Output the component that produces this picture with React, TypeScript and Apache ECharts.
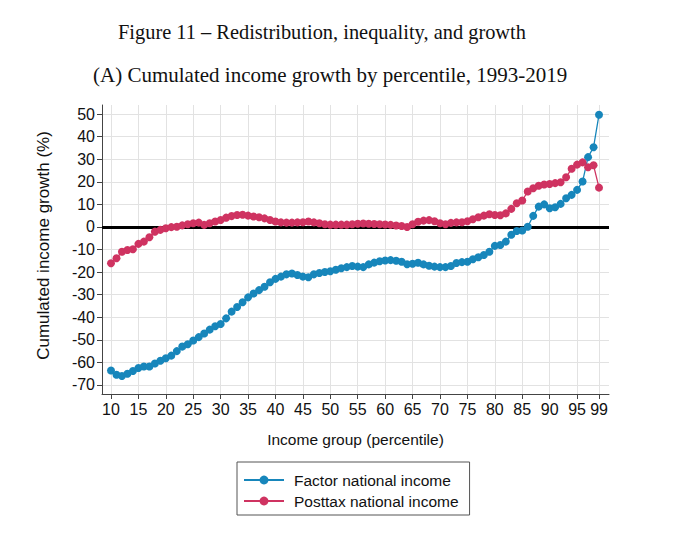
import React, { useEffect, useRef } from "react";
import * as echarts from "echarts";

const percentiles: number[] = [];
for (let p = 10; p <= 99; p++) percentiles.push(p);

// cumulated growth 1993-2019, %
const factorIncome = [
  -63.6, -65.5, -66, -65, -63.8, -62.5, -61.8, -61.8, -60.5, -59.3,
  -58.2, -57, -55, -53, -52, -50.3, -48.8, -47.2, -45.5, -44,
  -43, -40.5, -37.5, -35.5, -33.4, -31.2, -29.5, -28, -26.5, -24.5,
  -23, -22, -21, -20.6, -21.3, -22, -22.3, -21, -20.4, -20,
  -19.6, -19, -18.3, -17.8, -17.3, -17.6, -17.8, -16.6, -15.8, -15.2,
  -14.9, -14.7, -15, -15.4, -16.5, -16.3, -15.9, -16.6, -17.2, -17.6,
  -17.8, -17.8, -17.3, -16, -15.6, -15.4, -14.3, -13.4, -12.4, -11,
  -8.4, -8, -6.5, -3.5, -1.8, -1.6, 0.1, 4.9, 9, 10,
  8.3, 8.7, 10.2, 12.7, 14.2, 16.4, 20.1, 30.9, 35.3, 49.7,
];

const posttaxIncome = [
  -16.1, -13.9, -11, -10.2, -9.9, -7.5, -6.5, -4.6, -2.1, -1.3,
  -0.6, -0.1, 0.1, 0.7, 1.2, 1.6, 1.9, 0.9, 1.6, 2.4,
  3.1, 4.1, 4.8, 5.3, 5.4, 5, 4.6, 4.3, 3.8, 3.1,
  2.4, 2, 1.9, 1.9, 2, 2.1, 2.4, 2, 1.6, 1.2,
  1, 1, 1, 1, 1.2, 1.4, 1.5, 1.4, 1.3, 1.2,
  1.1, 0.9, 0.6, 0.4, 0, 1.2, 2.3, 2.8, 3, 2.5,
  1.6, 1.2, 1.8, 2, 2.1, 2.5, 3.4, 4.3, 5, 5.6,
  5.3, 5.2, 6, 8, 10.5, 11.7, 15.7, 17.1, 18.2, 18.8,
  19, 19.4, 19.8, 22, 25.8, 27.6, 28.6, 26.4, 27.3, 17.4,
];

const xTicks = [10, 15, 20, 25, 30, 35, 40, 45, 50, 55, 60, 65, 70, 75, 80, 85, 90, 95, 99];
const yTicks = [-70, -60, -50, -40, -30, -20, -10, 0, 10, 20, 30, 40, 50];

const SANS = "Liberation Sans, Arial, sans-serif";
const SERIF = "Liberation Serif, Times New Roman, serif";
const BLUE = "#1786bb";
const RED = "#cf3361";

const App = () => {
  const chartRef = useRef<HTMLDivElement>(null);

  useEffect(() => {
    if (!chartRef.current) return;
    const chart = echarts.init(chartRef.current, null, { renderer: "svg" });

    const option: echarts.EChartsOption = {
      animation: false,
      backgroundColor: "#fff",
      title: [
        {
          text: "Figure 11 – Redistribution, inequality, and growth",
          left: 113,
          top: 17,
          textStyle: { fontFamily: SERIF, fontSize: 20.4, fontWeight: "normal", color: "#111" },
        },
        {
          text: "(A) Cumulated income growth by percentile, 1993-2019",
          left: 88,
          top: 59,
          textStyle: { fontFamily: SERIF, fontSize: 21, fontWeight: "normal", color: "#111" },
        },
      ],
      grid: { left: 102, right: 71, top: 105, bottom: 146 },
      legend: {
        orient: "vertical",
        left: 237,
        top: 462,
        padding: [9, 11, 5, 6],
        borderColor: "#555",
        borderWidth: 1,
        itemWidth: 40,
        itemHeight: 11,
        itemGap: 3,
        textStyle: {
          fontFamily: SANS,
          fontSize: 15.5,
          lineHeight: 18,
          color: "#111",
          padding: [0, 0, 0, 5],
        },
        data: ["Factor national income", "Posttax national income"],
      },
      xAxis: {
        type: "value",
        min: 8.36,
        max: 100.82,
        name: "Income group (percentile)",
        nameLocation: "middle",
        nameGap: 37,
        nameTextStyle: { fontFamily: SANS, fontSize: 15.5, color: "#111" },
        axisLine: { onZero: false, lineStyle: { color: "#444", width: 1 } },
        axisTick: { customValues: xTicks, length: 5, lineStyle: { color: "#444" } },
        axisLabel: {
          customValues: xTicks,
          fontFamily: SANS,
          fontSize: 16,
          color: "#111",
          margin: 7,
        },
        splitLine: { show: true, lineStyle: { color: "#e2e2e2", width: 1 } },
      },
      yAxis: {
        type: "value",
        min: -74,
        max: 54,
        name: "Cumulated income growth (%)",
        nameLocation: "middle",
        nameGap: 50,
        nameTextStyle: { fontFamily: SANS, fontSize: 17, color: "#111", padding: [0, 0, 0, 8] },
        axisLine: { show: true, lineStyle: { color: "#444", width: 1 } },
        axisTick: { show: true, customValues: yTicks, length: 5, lineStyle: { color: "#444" } },
        axisLabel: {
          customValues: yTicks,
          fontFamily: SANS,
          fontSize: 16,
          color: "#111",
          margin: 7,
        },
        splitLine: { show: true, lineStyle: { color: "#e2e2e2", width: 1 } },
      },
      series: [
        {
          name: "Factor national income",
          type: "line",
          data: percentiles.map((p, i) => [p, factorIncome[i]]),
          symbol: "circle",
          symbolSize: 8,
          itemStyle: { color: BLUE },
          lineStyle: { color: BLUE, width: 1.3 },
          z: 3,
          markLine: {
            silent: true,
            symbol: "none",
            label: { show: false },
            lineStyle: { color: "#000", width: 3, type: "solid" },
            data: [{ yAxis: 0 }],
            z: 1,
          },
        },
        {
          name: "Posttax national income",
          type: "line",
          data: percentiles.map((p, i) => [p, posttaxIncome[i]]),
          symbol: "circle",
          symbolSize: 8,
          itemStyle: { color: RED },
          lineStyle: { color: RED, width: 1.3 },
          z: 4,
        },
      ],
    };

    chart.setOption(option);

    const handleResize = () => chart.resize();
    window.addEventListener("resize", handleResize);
    return () => {
      window.removeEventListener("resize", handleResize);
      chart.dispose();
    };
  }, []);

  return (
    <div
      ref={chartRef}
      style={{ position: "fixed", left: 0, top: 0, width: "680px", height: "540px" }}
    />
  );
};

export default App;
